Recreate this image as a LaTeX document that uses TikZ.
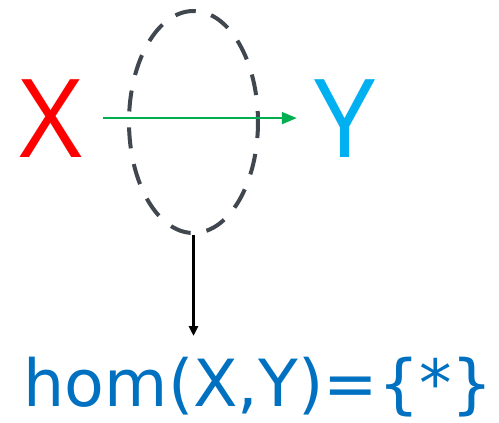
\documentclass[tikz,border=0pt]{standalone}
\usepackage{fontspec}
\setmainfont{Open Sans}
\newfontfamily\homfont{DejaVu Sans}
\usetikzlibrary{arrows.meta,shapes.geometric}
\definecolor{xred}{HTML}{FF0000}
\definecolor{ycyan}{HTML}{00B0F0}
\definecolor{agreen}{HTML}{00B050}
\definecolor{egray}{HTML}{41474F}
\definecolor{hblue}{HTML}{0070C0}
\tikzset{
  bigletter/.style={inner sep=0pt, font=\fontsize{109}{109}\selectfont},
  dashring/.style={ellipse, draw=egray, line width=4pt, dash pattern=on 21pt off 16pt, dash phase=10pt, minimum width=129pt, minimum height=222pt, inner sep=0pt},
  maparrow/.style={draw=agreen, line width=2pt, -{Triangle[length=15pt,width=12pt]}},
  downarrow/.style={draw=black, line width=2.5pt, -{Triangle[length=10pt,width=9pt]}},
}
\begin{document}
\begin{tikzpicture}[x=1pt,y=-1pt]
\useasboundingbox (0,0) rectangle (499,423);
\node[bigletter, text=xred, anchor=base] (X) at (50.5,157) {X};
\node[bigletter, text=ycyan, anchor=base] (Y) at (345.5,157) {Y};
\node[dashring] (E) at (193.5,122) {};
\draw[maparrow, shorten <=21pt, shorten >=18pt] (X.east) -- (Y.west);
\coordinate (A) at (193.5,336);
\draw[downarrow] (E.south) -- (A);
\node[inner sep=0pt, anchor=base, text=hblue, font=\homfont\fontsize{65}{65}\selectfont] (H) at (258.5,406) {hom(X,Y)=\{*\}};
\end{tikzpicture}
\end{document}
